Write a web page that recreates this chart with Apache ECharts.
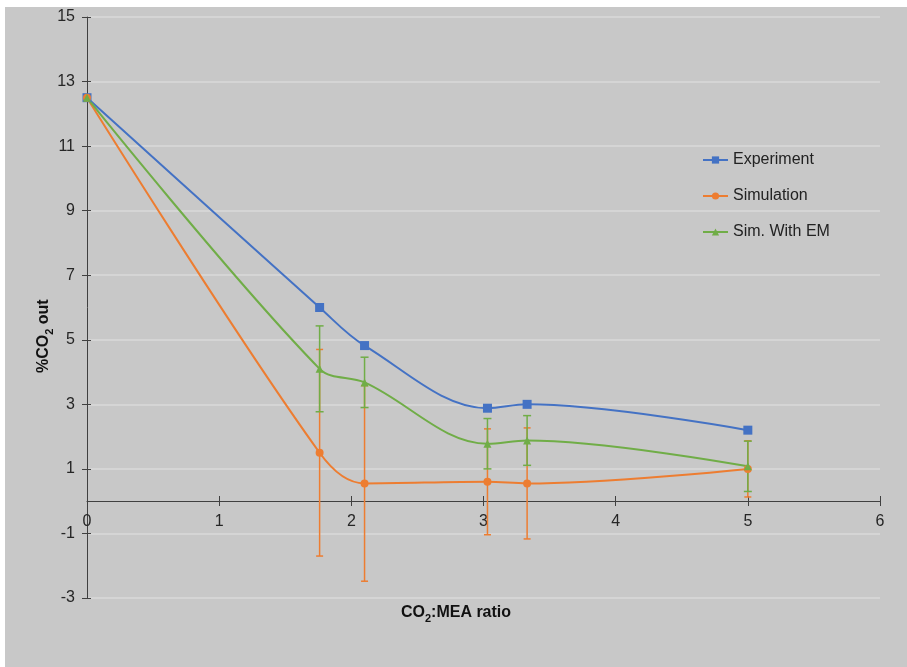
<!DOCTYPE html>
<html>
<head>
<meta charset="utf-8">
<script src="https://cdn.jsdelivr.net/npm/echarts@6/dist/echarts.min.js"></script>
<style>
html,body{margin:0;padding:0;background:#fff;}
#wrap{position:absolute;left:5px;top:7px;width:902px;height:660px;background:#c8c8c8;}
#chart{width:902px;height:660px;}
</style>
</head>
<body>
<div id="wrap"><div id="chart"></div></div>
<script>
// CO2:MEA ratio on x, %CO2 out on y
var xRatio = [0, 1.76, 2.1, 3.03, 3.33, 5];
var experiment = [12.5, 6.0, 4.82, 2.88, 3.0, 2.2];
var simulation = [12.5, 1.5, 0.55, 0.6, 0.55, 1.0];
var simErr = [0, 3.2, 3.03, 1.64, 1.72, 0.87];
var simEM = [12.5, 4.1, 3.68, 1.78, 1.88, 1.08];
var simEMErr = [0, 1.33, 0.78, 0.78, 0.77, 0.78];
var yTicks = [-3, -1, 1, 3, 5, 7, 9, 11, 13, 15];

var cBlue = '#4472c4', cOrange = '#ed7d31', cGreen = '#70ad47';

// grid size, used to put the x axis on y=0
var gridTop = 10, gridBottom = 69, chartH = 660;
var yMin = -3, yMax = 15;
var plotH = chartH - gridTop - gridBottom;
var zeroFromBottom = Math.round(plotH * (0 - yMin) / (yMax - yMin));

function pairs(ys){
    var out = [];
    for(var i=0;i<xRatio.length;i++){
        out.push([xRatio[i], ys[i]]);
    }
    return out;
}
function errData(ys, errs){
    var out = [];
    for(var i=0;i<xRatio.length;i++){
        if(errs[i] > 0){
            out.push([xRatio[i], ys[i] - errs[i], ys[i] + errs[i]]);
        }
    }
    return out;
}
function errSeries(name, ys, errs, color, cap){
    return {
        name: name,
        type: 'custom',
        z: 1,
        silent: true,
        data: errData(ys, errs),
        encode: {x: 0, y: [1, 2]},
        renderItem: function(params, api){
            var lo = api.coord([api.value(0), api.value(1)]);
            var hi = api.coord([api.value(0), api.value(2)]);
            var st = {stroke: color, lineWidth: 1.5};
            return {
                type: 'group',
                children: [
                    {type: 'line', shape: {x1: lo[0], y1: lo[1], x2: hi[0], y2: hi[1]}, style: st},
                    {type: 'line', shape: {x1: lo[0]-cap, y1: lo[1], x2: lo[0]+cap, y2: lo[1]}, style: st},
                    {type: 'line', shape: {x1: hi[0]-cap, y1: hi[1], x2: hi[0]+cap, y2: hi[1]}, style: st}
                ]
            };
        }
    };
}
function lineSeries(name, ys, color, symbol, size){
    return {
        name: name,
        type: 'line',
        z: 3,
        smooth: 0.35,
        data: pairs(ys),
        symbol: symbol,
        symbolSize: size,
        showAllSymbol: true,
        color: color,
        lineStyle: {width: 2, color: color},
        itemStyle: {color: color}
    };
}

var myChart = echarts.init(document.getElementById('chart'));
var option = {
    backgroundColor: 'transparent',
    animation: false,
    textStyle: {fontFamily: 'Liberation Sans, Arial, sans-serif'},
    grid: {left: 82, top: gridTop, right: 27, bottom: gridBottom},
    legend: {
        orient: 'vertical',
        left: 697,
        top: 145,
        padding: 0,
        itemWidth: 25,
        itemHeight: 9,
        itemGap: 20,
        data: ['Experiment', 'Simulation', 'Sim. With EM'],
        textStyle: {fontSize: 16, color: '#222'}
    },
    xAxis: [{
        type: 'value',
        position: 'bottom',
        offset: -zeroFromBottom,
        min: 0, max: 6, interval: 1,
        axisLine: {onZero: false, lineStyle: {color: '#404040', width: 1}},
        axisTick: {show: true, length: 5, lineStyle: {color: '#404040'}},
        axisLabel: {fontSize: 16, color: '#262626', margin: 13},
        splitLine: {show: false}
    }, {
        type: 'value',
        position: 'top',
        offset: -(plotH - zeroFromBottom),
        min: 0, max: 6, interval: 1,
        axisLine: {show: false, onZero: false},
        axisTick: {show: true, length: 5, lineStyle: {color: '#404040'}},
        axisLabel: {show: false},
        splitLine: {show: false}
    }],
    yAxis: [{
        type: 'value',
        min: yMin, max: yMax,
        axisLine: {show: true, onZero: false, lineStyle: {color: '#404040', width: 1}},
        axisTick: {show: true, length: 5, customValues: yTicks, lineStyle: {color: '#404040'}},
        axisLabel: {fontSize: 16, color: '#262626', margin: 12, customValues: yTicks},
        splitLine: {show: true, lineStyle: {color: '#dadada', width: 1.5}}
    }, {
        type: 'value',
        position: 'left',
        z: 5,
        min: yMin, max: yMax,
        axisLine: {show: false, onZero: false},
        axisTick: {show: true, inside: true, length: 4, customValues: yTicks, lineStyle: {color: '#404040'}},
        axisLabel: {show: false, customValues: yTicks},
        splitLine: {show: false}
    }],
    graphic: [{
        type: 'text',
        left: 'center',
        top: 598,
        style: {
            text: '{b|CO}{s|2}{b|:MEA ratio}',
            rich: {
                b: {fontSize: 16, fontWeight: 'bold', fill: '#111', fontFamily: 'Liberation Sans', verticalAlign: 'middle', lineHeight: 22},
                s: {fontSize: 11, fontWeight: 'bold', fill: '#111', fontFamily: 'Liberation Sans', verticalAlign: 'bottom', lineHeight: 14}
            }
        }
    }, {
        type: 'text',
        x: 28,
        y: 366,
        rotation: Math.PI / 2,
        style: {
            text: '{b|%CO}{s|2}{b| out}',
            rich: {
                b: {fontSize: 16, fontWeight: 'bold', fill: '#111', fontFamily: 'Liberation Sans', verticalAlign: 'middle', lineHeight: 22},
                s: {fontSize: 11, fontWeight: 'bold', fill: '#111', fontFamily: 'Liberation Sans', verticalAlign: 'bottom', lineHeight: 14}
            }
        }
    }],
    series: [
        errSeries('Simulation err', simulation, simErr, cOrange, 3.5),
        errSeries('Sim. With EM err', simEM, simEMErr, cGreen, 4),
        lineSeries('Experiment', experiment, cBlue, 'rect', 9),
        lineSeries('Simulation', simulation, cOrange, 'circle', 8),
        lineSeries('Sim. With EM', simEM, cGreen, 'triangle', 8)
    ]
};
myChart.setOption(option);
</script>
</body>
</html>
